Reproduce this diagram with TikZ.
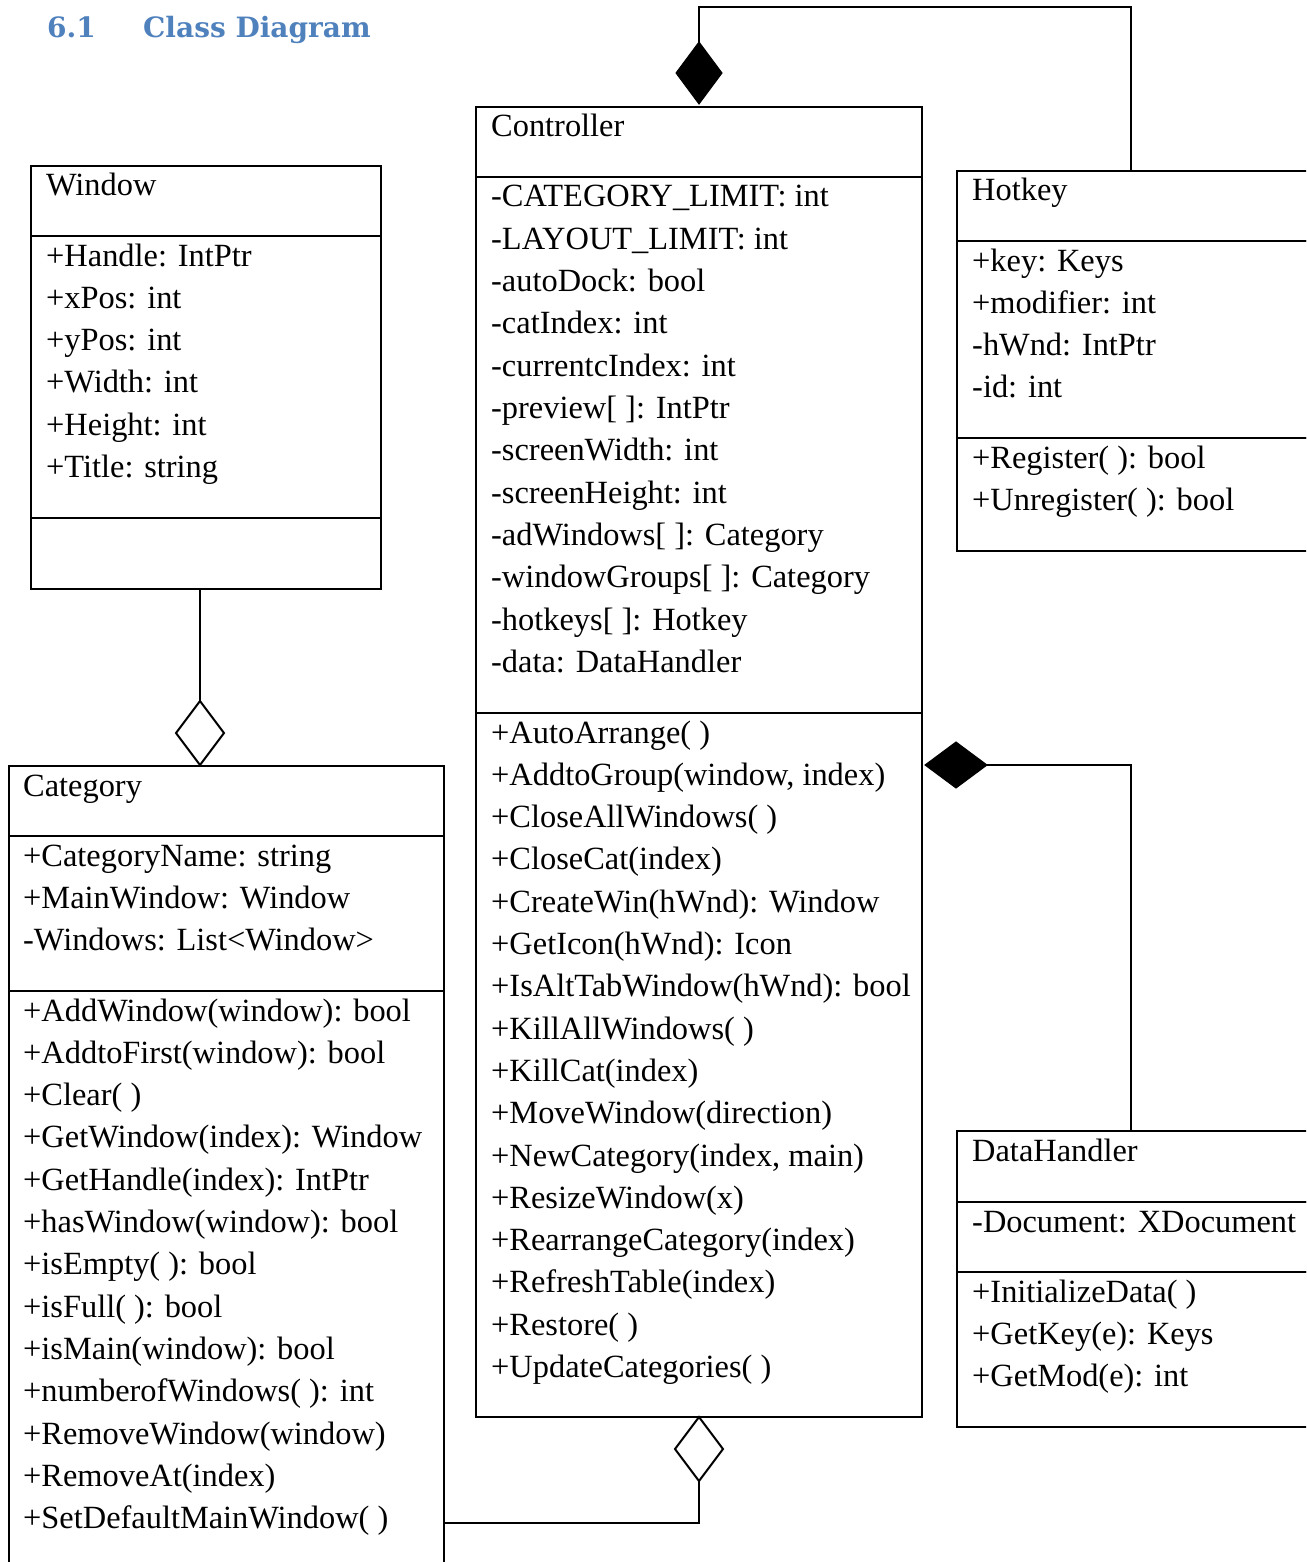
\documentclass[tikz,border=0pt]{standalone}
\usepackage{fontspec}
\setmainfont{Liberation Serif}
\newfontfamily\headfont{DejaVu Serif}
\usetikzlibrary{shapes.geometric}
\definecolor{headblue}{RGB}{79,129,189}

\tikzset{
  compartment/.style={draw, line width=2pt, rectangle, inner sep=0pt, outer sep=0pt, anchor=north west},
  member/.style={anchor=base west, inner sep=0pt, font=\fontsize{32.4}{42.3}\selectfont},
  link/.style={line width=1.8pt},
  hollowdia/.style={diamond, draw, line width=2pt, fill=white, inner sep=0pt, outer sep=0pt,
                    minimum width=48pt, minimum height=64pt},
  soliddia/.style={diamond, draw, fill=black, line width=1pt, inner sep=0pt, outer sep=0pt},
  heading/.style={anchor=base west, inner sep=0pt, text=headblue,
                  font=\headfont\bfseries\fontsize{28}{32}\selectfont},
}

% one text line per member, 42.3pt apart, first baseline at (x,y)
\newcommand\memberlist[4]{%
  \foreach \txt [count=\k] in {#4} {
    \node[member] (#1-\k) at (#2, {#3+(\k-1)*42.3}) {\txt};
  }%
}

\begin{document}
\begin{tikzpicture}[x=1pt, y=-1pt]
  \useasboundingbox (0,0) rectangle (1306,1562);
  \clip (0,0) rectangle (1306,1562);

  % section heading
  \node[heading] (secnum) at (47,38) {6.1};
  \node[heading] (sectitle) at (143,38) {Class Diagram};

  % ---------- Window ----------
  \node[compartment, minimum width=350pt, minimum height=70pt]  (win-n) at (31,166) {};
  \node[compartment, minimum width=350pt, minimum height=282pt] (win-a) at (31,236) {};
  \node[compartment, minimum width=350pt, minimum height=71pt]  (win-m) at (31,518) {};
  \memberlist{win-t}{46}{196}{Window}
  \memberlist{win-f}{46}{266}{+Handle: IntPtr, +xPos: int, +yPos: int, +Width: int, +Height: int, +Title: string}

  % ---------- Category ----------
  \node[compartment, minimum width=435pt, minimum height=70pt]  (cat-n) at (9,766) {};
  \node[compartment, minimum width=435pt, minimum height=155pt] (cat-a) at (9,836) {};
  \node[compartment, minimum width=435pt, minimum height=600pt] (cat-m) at (9,991) {};
  \memberlist{cat-t}{23}{796}{Category}
  \memberlist{cat-f}{23}{866}{+CategoryName: string, +MainWindow: Window, -Windows: List<Window>}
  \memberlist{cat-o}{23}{1021}{+AddWindow(window): bool, +AddtoFirst(window): bool, +Clear( ),
    +GetWindow(index): Window, +GetHandle(index): IntPtr, +hasWindow(window): bool,
    +isEmpty( ): bool, +isFull( ): bool, +isMain(window): bool, +numberofWindows( ): int,
    +RemoveWindow(window), +RemoveAt(index), +SetDefaultMainWindow( )}

  % ---------- Controller ----------
  \node[compartment, minimum width=446pt, minimum height=70pt]  (ctl-n) at (476,107) {};
  \node[compartment, minimum width=446pt, minimum height=536pt] (ctl-a) at (476,177) {};
  \node[compartment, minimum width=446pt, minimum height=704pt] (ctl-m) at (476,713) {};
  \memberlist{ctl-t}{491}{137}{Controller}
  \memberlist{ctl-f}{491}{207}{-CATEGORY\_LIMIT: int, -LAYOUT\_LIMIT: int, -autoDock: bool,
    -catIndex: int, -currentcIndex: int, -preview[ ]: IntPtr, -screenWidth: int,
    -screenHeight: int, -adWindows[ ]: Category, -windowGroups[ ]: Category,
    -hotkeys[ ]: Hotkey, -data: DataHandler}
  \memberlist{ctl-o}{491}{743}{+AutoArrange( ), {+AddtoGroup(window, index)}, +CloseAllWindows( ),
    +CloseCat(index), +CreateWin(hWnd): Window, +GetIcon(hWnd): Icon,
    +IsAltTabWindow(hWnd): bool, +KillAllWindows( ), +KillCat(index),
    +MoveWindow(direction), {+NewCategory(index, main)}, +ResizeWindow(x),
    +RearrangeCategory(index), +RefreshTable(index), +Restore( ), +UpdateCategories( )}

  % ---------- Hotkey ----------
  \node[compartment, minimum width=380pt, minimum height=70pt]  (hk-n) at (957,171) {};
  \node[compartment, minimum width=380pt, minimum height=197pt] (hk-a) at (957,241) {};
  \node[compartment, minimum width=380pt, minimum height=113pt] (hk-m) at (957,438) {};
  \memberlist{hk-t}{972}{201}{Hotkey}
  \memberlist{hk-f}{972}{271}{+key: Keys, +modifier: int, -hWnd: IntPtr, -id: int}
  \memberlist{hk-o}{972}{468}{+Register( ): bool, +Unregister( ): bool}

  % ---------- DataHandler ----------
  \node[compartment, minimum width=380pt, minimum height=71pt]  (dh-n) at (957,1131) {};
  \node[compartment, minimum width=380pt, minimum height=70pt]  (dh-a) at (957,1202) {};
  \node[compartment, minimum width=380pt, minimum height=155pt] (dh-m) at (957,1272) {};
  \memberlist{dh-t}{972}{1161}{DataHandler}
  \memberlist{dh-f}{972}{1232}{-Document: XDocument}
  \memberlist{dh-o}{972}{1302}{+InitializeData( ), +GetKey(e): Keys, +GetMod(e): int}

  % ---------- relationships ----------
  % Category aggregates Window
  \node[hollowdia] (wc-dia) at (200,733) {};
  \draw[link] (wc-dia.north) -- (wc-dia.north |- win-m.south);

  % Controller composed of Hotkey
  \node[soliddia, minimum width=46pt, minimum height=62pt] (ch-dia) at (699,73) {};
  \coordinate (ch-bend) at (1131,7);
  \draw[link] (ch-dia.north) |- (ch-bend) -- (ch-bend |- hk-n.north);

  % Controller composed of DataHandler
  \node[soliddia, minimum width=62pt, minimum height=46pt] (cd-dia) at (956,765) {};
  \coordinate (cd-bend) at (1131,765);
  \draw[link] (cd-dia.east) -- (cd-bend) -- (cd-bend |- dh-n.north);

  % Controller aggregates Category
  \node[hollowdia] (cc-dia) at (699,1449) {};
  \coordinate (cc-bend) at (699,1523);
  \draw[link] (cc-dia.south) -- (cc-bend) -- (cc-bend -| cat-m.east);
\end{tikzpicture}
\end{document}
